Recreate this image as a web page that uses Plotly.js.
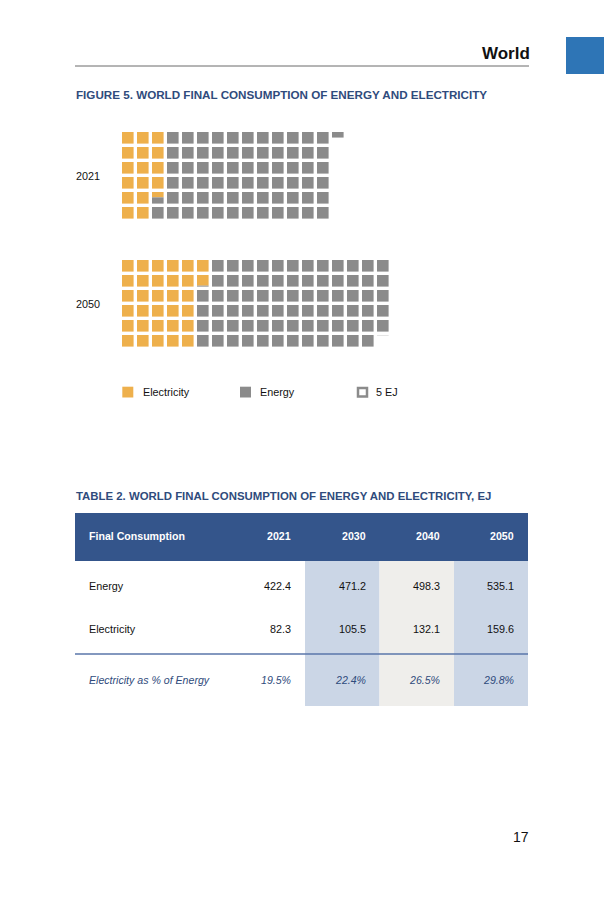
<!DOCTYPE html>
<html>
<head>
<meta charset="utf-8">
<script src="https://cdn.plot.ly/plotly-3.0.1.min.js"></script>
<style>html,body{margin:0;padding:0;background:#fff;}#chart{width:604px;height:907px;}</style>
</head>
<body>
<div id="chart"></div>
<script>
// ---- data ----
const years = ['2021', '2030', '2040', '2050'];
const energyEJ = [422.4, 471.2, 498.3, 535.1];
const electricityEJ = [82.3, 105.5, 132.1, 159.6];
const electricitySharePct = [19.5, 22.4, 26.5, 29.8];
const waffleYears = ['2021', '2050'];
const unitEJ = 5;            // one square = 5 EJ
const squaresPerColumn = 6;
const rowLabels = ['Energy', 'Electricity', 'Electricity as % of Energy'];
const headerLabel = 'Final Consumption';

// ---- styles ----
const FONT = 'Liberation Sans, Arial, Helvetica, sans-serif';
const NAVY = '#2f4b7c';
const ORANGE = '#eeb04c';
const GRAY = '#8b8b8b';
const HEADER = '#34558b';
const LIGHTBLUE = '#cbd6e6';
const LIGHTGRAY = '#efeeeb';

const shapes = [];
const ann = [];
function text(x, y, t, o) {
  o = o || {};
  ann.push({x: x, y: y, xref: 'x', yref: 'y', text: t, showarrow: false,
    xanchor: o.xa || 'left', yanchor: o.ya || 'middle', borderpad: 0, borderwidth: 0,
    font: {family: FONT, size: o.size || 10.8, color: o.color || '#111',
      weight: o.bold ? 'bold' : 'normal', style: o.italic ? 'italic' : 'normal'}});
}
function rect(x0, y0, x1, y1, fill, line) {
  shapes.push({type: 'rect', xref: 'x', yref: 'y', x0: x0, y0: y0, x1: x1, y1: y1,
    fillcolor: fill, line: line || {width: 0}, layer: 'above'});
}

// ---- page header ----
rect(566, 37, 604, 74, '#2e75b6');
text(530, 53, 'World', {xa: 'right', size: 17, bold: true, color: '#111'});
shapes.push({type: 'line', xref: 'x', yref: 'y', x0: 75, x1: 529, y0: 66, y1: 66, line: {color: '#444', width: 0.8}});
text(76, 94, 'FIGURE 5. WORLD FINAL CONSUMPTION OF ENERGY AND ELECTRICITY', {size: 11.65, bold: true, color: NAVY});

// ---- waffles ----
const waffleOrigin = {'2021': [122, 132], '2050': [122, 260]};
const pitch = 15, side = 11.6;
waffleYears.forEach(function (yr) {
  const i = years.indexOf(yr);
  const total = energyEJ[i] / unitEJ;
  const elec = electricityEJ[i] / unitEJ;
  const ox = waffleOrigin[yr][0], oy = waffleOrigin[yr][1];
  for (let k = 0; k < Math.ceil(total); k++) {
    const col = Math.floor(k / squaresPerColumn), row = k % squaresPerColumn;
    const x0 = ox + col * pitch, y0 = oy + row * pitch;
    const fe = Math.max(0, Math.min(1, elec - k));
    const ft = Math.max(0, Math.min(1, total - k));
    if (fe > 0) rect(x0, y0, x0 + side, y0 + side * fe, ORANGE);
    if (ft > fe) rect(x0, y0 + side * fe, x0 + side, y0 + side * ft, GRAY);
  }
  text(76, oy + (squaresPerColumn * pitch - (pitch - side)) / 2 + 1, yr);
});

// ---- legend ----
rect(122.3, 386.7, 133.3, 397.5, ORANGE);
text(143, 392, 'Electricity');
rect(240, 386.7, 251, 397.5, GRAY);
text(260, 392, 'Energy');
rect(358, 388, 367, 396.5, '#fff', {color: GRAY, width: 2.5});
text(376, 392, unitEJ + ' EJ');

// ---- table ----
text(76, 496, 'TABLE 2. WORLD FINAL CONSUMPTION OF ENERGY AND ELECTRICITY, EJ', {size: 11.4, bold: true, color: NAVY});
const colEdges = [75, 230, 305, 379.5, 454, 528];
const colFill = [null, LIGHTBLUE, LIGHTGRAY, LIGHTBLUE];
rect(75, 513, 528, 561, HEADER);
years.forEach(function (yr, j) {
  if (colFill[j]) rect(colEdges[j + 1], 561, colEdges[j + 2], 706, colFill[j]);
});
shapes.push({type: 'line', xref: 'x', yref: 'y', x0: 75, x1: 528, y0: 654, y1: 654, line: {color: '#5a76aa', width: 1.5}});
text(89, 536, headerLabel, {size: 10.6, bold: true, color: '#fff'});
const rowY = [586, 629, 680];
text(89, rowY[0], rowLabels[0]);
text(89, rowY[1], rowLabels[1]);
text(89, rowY[2], rowLabels[2], {size: 10.6, italic: true, color: NAVY});
years.forEach(function (yr, j) {
  const xr = colEdges[j + 2] - 14;
  text(xr, 536, yr, {xa: 'right', size: 10.6, bold: true, color: '#fff'});
  text(xr, rowY[0], energyEJ[j].toFixed(1), {xa: 'right'});
  text(xr, rowY[1], electricityEJ[j].toFixed(1), {xa: 'right'});
  text(xr, rowY[2], electricitySharePct[j].toFixed(1) + '%', {xa: 'right', size: 10.6, italic: true, color: NAVY});
});

// ---- page number ----
text(529, 837, '17', {xa: 'right', size: 14});

const layout = {
  width: 604, height: 907,
  margin: {l: 0, r: 0, t: 0, b: 0},
  paper_bgcolor: '#fff', plot_bgcolor: '#fff',
  showlegend: false,
  xaxis: {range: [0, 604], visible: false, fixedrange: true},
  yaxis: {range: [907, 0], visible: false, fixedrange: true},
  shapes: shapes,
  annotations: ann
};
Plotly.newPlot('chart', [{x: [0], y: [0], mode: 'markers', marker: {opacity: 0}, hoverinfo: 'skip'}], layout, {staticPlot: true, displayModeBar: false});
</script>
</body>
</html>
